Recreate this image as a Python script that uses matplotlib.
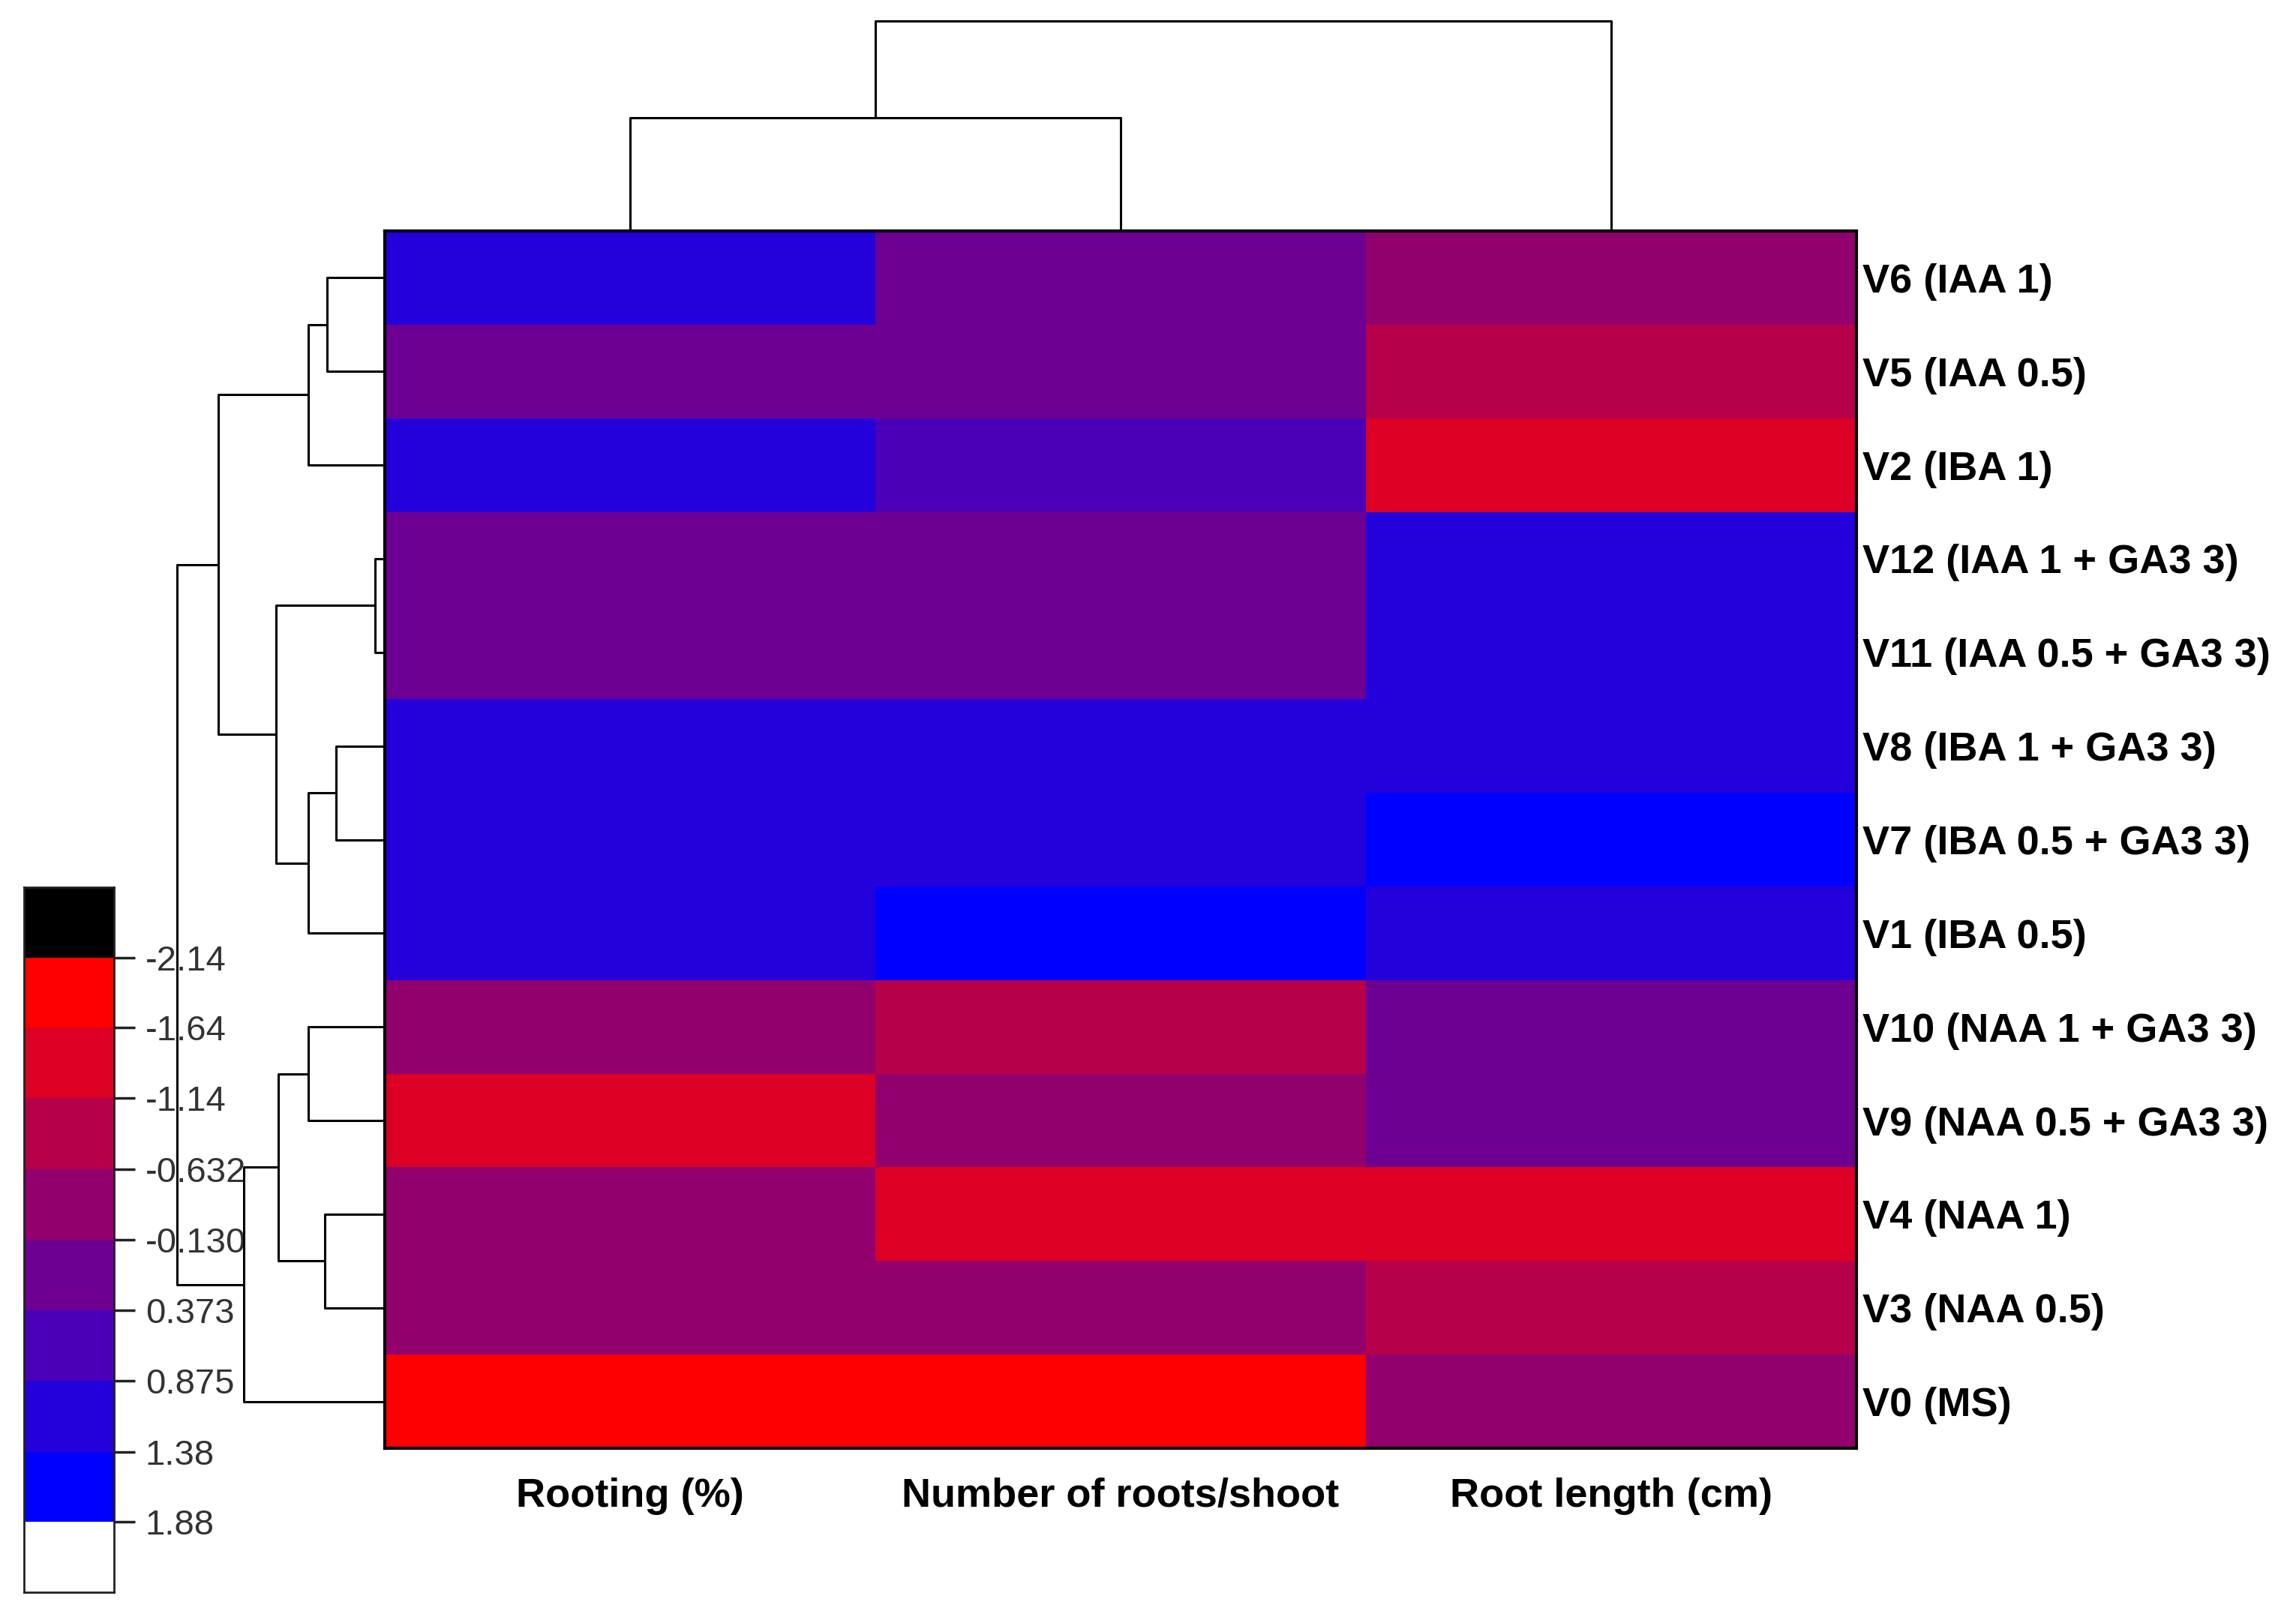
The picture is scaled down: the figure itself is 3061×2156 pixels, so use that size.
import numpy as np
import matplotlib
matplotlib.use("Agg")
import matplotlib.pyplot as plt
from matplotlib.colors import ListedColormap, BoundaryNorm

# rows as they appear top to bottom (already in dendrogram order)
rows = ['V6 (IAA 1)', 'V5 (IAA 0.5)', 'V2 (IBA 1)', 'V12 (IAA 1 + GA3 3)',
        'V11 (IAA 0.5 + GA3 3)', 'V8 (IBA 1 + GA3 3)', 'V7 (IBA 0.5 + GA3 3)',
        'V1 (IBA 0.5)', 'V10 (NAA 1 + GA3 3)', 'V9 (NAA 0.5 + GA3 3)',
        'V4 (NAA 1)', 'V3 (NAA 0.5)', 'V0 (MS)']
cols = ['Rooting (%)', 'Number of roots/shoot', 'Root length (cm)']

# standardised values (z-scores)
rooting     = [1.10, 0.10, 1.05, 0.08, 0.06, 1.15, 1.12, 1.02, -0.40, -1.35, -0.38, -0.36, -1.92]
n_roots     = [0.12, 0.15, 0.62, 0.10, 0.09, 1.10, 1.08, 1.65, -0.88, -0.42, -1.40, -0.40, -1.95]
root_length = [-0.36, -0.90, -1.38, 1.12, 1.14, 1.10, 1.62, 1.05, 0.14, 0.16, -1.40, -0.88, -0.38]

# colour scale
bounds = [-2.14, -1.64, -1.14, -0.632, -0.130, 0.373, 0.875, 1.38, 1.88]
bound_labels = ['-2.14', '-1.64', '-1.14', '-0.632', '-0.130', '0.373', '0.875', '1.38', '1.88']
n_col = len(bounds) - 1
colours = [((255 - 255 * k / (n_col - 1)) / 255, 0, (255 * k / (n_col - 1)) / 255) for k in range(n_col)]

# linkage: (node a, node b, height); leaves are 0..n-1, merge i gets id n+i
row_merges = [(3, 4, 0.13), (5, 6, 0.65), (0, 1, 0.77), (10, 11, 0.80),
              (15, 2, 1.02), (14, 7, 1.02), (8, 9, 1.02), (19, 16, 1.42),
              (13, 18, 1.45), (20, 12, 1.88), (17, 21, 2.22), (23, 22, 2.77)]
col_merges = [(0, 1, 1.51), (3, 2, 2.80)]


def dendro_segments(n_leaves, merges):
    pos = {i: i + 0.5 for i in range(n_leaves)}
    hgt = {i: 0.0 for i in range(n_leaves)}
    segs = []
    for i, (a, b, h) in enumerate(merges):
        segs.append(([hgt[a], h, h, hgt[b]], [pos[a], pos[a], pos[b], pos[b]]))
        pos[n_leaves + i] = (pos[a] + pos[b]) / 2
        hgt[n_leaves + i] = h
    return segs


data = np.array([rooting, n_roots, root_length]).T

cmap = ListedColormap(colours)
cmap.set_under('black')
cmap.set_over('white')
norm = BoundaryNorm(bounds, cmap.N)

W, H = 3061, 2156
fig = plt.figure(figsize=(W / 100, H / 100), dpi=100)


def box(x0, y0, x1, y1):
    return [x0 / W, 1 - y1 / H, (x1 - x0) / W, (y1 - y0) / H]


lab_font = dict(family=['Liberation Sans', 'DejaVu Sans'], fontweight='bold', fontsize=39)

# heatmap
ax = fig.add_axes(box(513, 308, 2475, 1931))
ax.pcolormesh(np.arange(len(cols) + 1), np.arange(len(rows) + 1), data,
              cmap=cmap, norm=norm, edgecolors='none', antialiased=False)
ax.set_xlim(0, len(cols))
ax.set_ylim(len(rows), 0)
ax.set_xticks(np.arange(len(cols)) + 0.5)
ax.set_xticklabels(cols, **lab_font)
ax.set_yticks(np.arange(len(rows)) + 0.5)
ax.set_yticklabels(rows, **lab_font)
ax.tick_params(axis='x', length=0, pad=28)
ax.tick_params(axis='y', length=0, pad=6, left=False, labelleft=False, right=True, labelright=True)
for s in ax.spines.values():
    s.set_linewidth(3)
    s.set_color('black')

# row dendrogram
axr = fig.add_axes(box(236, 308, 513, 1931))
for xs, ys in dendro_segments(len(rows), row_merges):
    axr.plot(xs, ys, color='black', lw=2.2, clip_on=False, solid_capstyle='butt')
axr.set_xlim(row_merges[-1][2], 0)
axr.set_ylim(len(rows), 0)
axr.axis('off')

# column dendrogram
axc = fig.add_axes(box(513, 28, 2475, 308))
for ys, xs in dendro_segments(len(cols), col_merges):
    axc.plot(xs, ys, color='black', lw=2.2, clip_on=False, solid_capstyle='butt')
axc.set_xlim(0, len(cols))
axc.set_ylim(0, col_merges[-1][2])
axc.axis('off')

# colour bar
step = bounds[1] - bounds[0]
edges = np.array([bounds[0] - step] + bounds + [bounds[-1] + step])
mids = (edges[:-1] + edges[1:]) / 2
axb = fig.add_axes(box(32, 1183, 152, 2123))
axb.pcolormesh([0, 1], edges, mids.reshape(-1, 1), cmap=cmap, norm=norm,
               edgecolors='none', antialiased=False)
axb.set_ylim(edges[-1], edges[0])
axb.set_xlim(0, 1)
axb.set_xticks([])
axb.yaxis.tick_right()
axb.set_yticks(bounds)
axb.set_yticklabels(bound_labels, family=['Liberation Sans', 'DejaVu Sans'],
                    fontsize=34, color='#333333')
axb.tick_params(axis='y', length=20, width=2.5, pad=10, color='#222222')
for s in axb.spines.values():
    s.set_linewidth(2)
    s.set_color('#222222')
axb.set_zorder(0)
axr.set_zorder(1)

fig.savefig('out.png', dpi=100)
